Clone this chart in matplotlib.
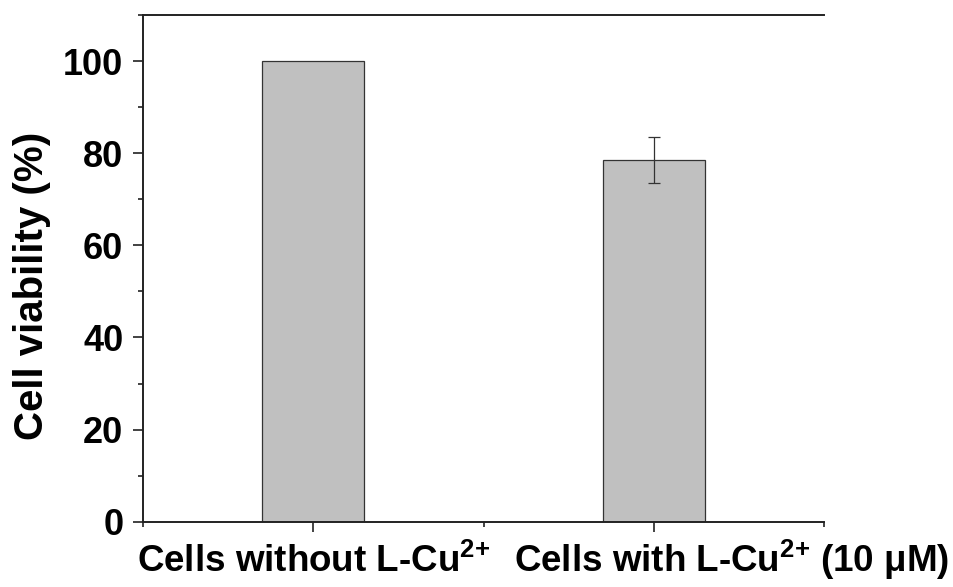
import matplotlib
matplotlib.use("Agg")
import matplotlib.pyplot as plt
import matplotlib.transforms as mtransforms
from matplotlib.ticker import MultipleLocator

# cell viability after treatment
categories = [r"Cells without L-Cu$^{\text{2+}}$", r"Cells with L-Cu$^{\text{2+}}$ (10 μM)"]
viability = [100.0, 78.6]
viability_err = [0.0, 5.0]
positions = [1, 2]

plt.rcParams.update({
    "font.family": "Liberation Sans", "font.weight": "bold",
    "mathtext.fontset": "custom", "mathtext.rm": "Liberation Sans:bold",
    "mathtext.bf": "Liberation Sans:bold", "mathtext.default": "bf",
})

fig = plt.figure(figsize=(9.54, 5.87), dpi=100)
ax = fig.add_axes([0.1496, 0.1112, 0.7145, 0.8632])

ax.bar(positions, viability, width=0.3, color="#c0c0c0", edgecolor="#333333", linewidth=0.9)
ax.errorbar(positions[1:], viability[1:], yerr=viability_err[1:], fmt="none",
            ecolor="#333333", elinewidth=0.9, capsize=4, capthick=0.9)

ax.set_xlim(0.5, 2.5)
ax.set_ylim(0, 110)
ax.set_xticks(positions)
ax.set_xticklabels(categories, fontsize=26.5, fontweight="bold", va="baseline")
ax.xaxis.set_minor_locator(MultipleLocator(0.5))
ax.yaxis.set_major_locator(MultipleLocator(20))
ax.yaxis.set_minor_locator(MultipleLocator(10))

ax.tick_params(which="major", direction="out", length=7, width=1.2, color="#222222")
ax.tick_params(which="minor", direction="out", length=3.5, width=1.2, color="#222222")
ax.tick_params(axis="y", which="major", labelsize=26, pad=7)
ax.tick_params(axis="x", which="major", pad=29.5)
ax.spines["right"].set_visible(False)
for s in ("left", "bottom", "top"):
    ax.spines[s].set_linewidth(1.4)
    ax.spines[s].set_color("#222222")

# second category label sits right of its tick
lab2 = ax.get_xticklabels()[1]
lab2.set_transform(lab2.get_transform() + mtransforms.ScaledTranslation(0.78, 0, fig.dpi_scale_trans))

ax.set_ylabel("Cell viability (%)", fontsize=29, fontweight="bold")
ax.yaxis.set_label_coords(-0.135, 0.465)

fig.savefig("out.png", dpi=100)
